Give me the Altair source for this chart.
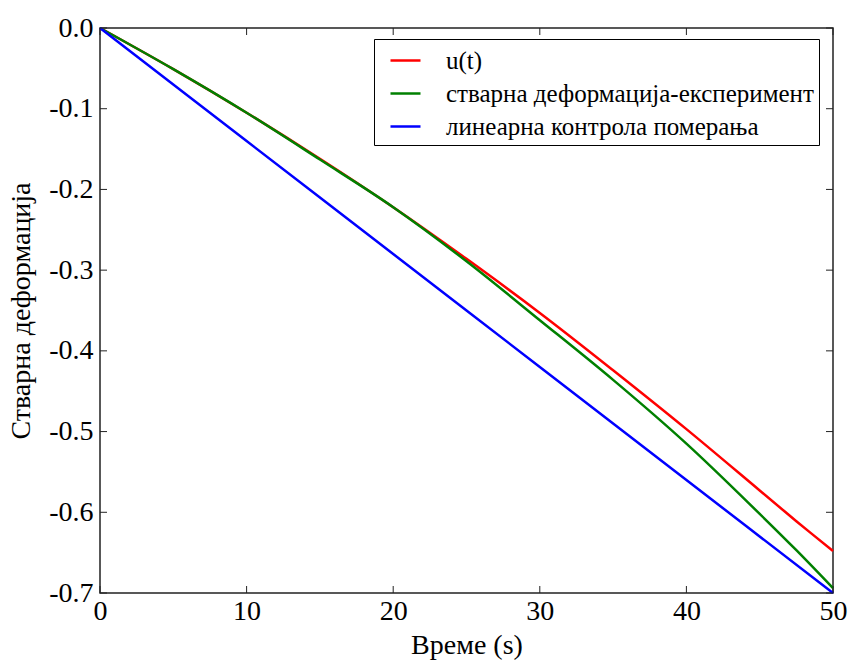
import altair as alt
import pandas as pd

# ---- data ----
t_curve = [0, 5, 10, 15, 20, 25, 30, 35, 40, 45, 47.5, 50]
u_t = [0, -0.051, -0.105, -0.162, -0.222, -0.286, -0.353, -0.424, -0.497, -0.573, -0.611, -0.648]
experiment = [0, -0.051, -0.105, -0.163, -0.222, -0.289, -0.362, -0.436, -0.515, -0.602, -0.647, -0.694]
t_linear = [0, 10, 20, 30, 40, 50]
linear = [0, -0.14, -0.28, -0.42, -0.56, -0.70]

series_names = ["u(t)", "стварна деформација-експеримент", "линеарна контрола померања"]
series_colors = ["#ff0000", "#008000", "#0000ff"]

x_ticks = [0, 10, 20, 30, 40, 50]
y_ticks = [0.0, -0.1, -0.2, -0.3, -0.4, -0.5, -0.6, -0.7]

rows = []
for t, v in zip(t_curve, u_t):
    rows.append({"t": t, "v": v, "s": series_names[0], "o": 0})
for t, v in zip(t_curve, experiment):
    rows.append({"t": t, "v": v, "s": series_names[1], "o": 1})
for t, v in zip(t_linear, linear):
    rows.append({"t": t, "v": v, "s": series_names[2], "o": 2})
df = pd.DataFrame(rows)

W, H = 733, 565
FONT = "Liberation Serif"
TL = 7  # inner tick length

xs = alt.Scale(domain=[0, 50], nice=False, zero=False)
ys = alt.Scale(domain=[-0.7, 0], nice=False, zero=False)

x_axis = alt.Axis(
    values=x_ticks, title="Време (s)", ticks=False, domain=False, grid=False,
    labelFontSize=28, labelColor="black", labelPadding=4, labelFlush=False,
    titleFontSize=28, titleFontWeight="normal", titleColor="black",
    titleY=60, titleBaseline="alphabetic")
y_axis = alt.Axis(
    values=y_ticks, format=".1f", labelExpr="replace(datum.label, '\u2212', '-')",
    title="Стварна деформација", ticks=False, domain=False, grid=False,
    labelFontSize=28, labelColor="black", labelPadding=7, labelFlush=False,
    titleFontSize=28, titleFontWeight="normal", titleColor="black",
    titleX=-79, titleY=H / 2, titleAngle=270, titleBaseline="middle", titleAlign="center")

lines = alt.Chart(df).mark_line(strokeWidth=2.5, interpolate="catmull-rom").encode(
    x=alt.X("t:Q", scale=xs, axis=x_axis),
    y=alt.Y("v:Q", scale=ys, axis=y_axis),
    color=alt.Color("s:N", scale=alt.Scale(domain=series_names, range=series_colors),
                    legend=alt.Legend(
                        title=None, orient="none", legendX=274, legendY=11,
                        strokeColor="black", fillColor="white", padding=5,
                        symbolType="stroke", symbolSize=900, symbolStrokeWidth=2.5,
                        symbolOffset=10,
                        labelFontSize=25, labelColor="black",
                        labelOffset=24, rowPadding=3, labelLimit=600)),
    order=alt.Order("o:Q"),
)

xt = pd.DataFrame({"t": x_ticks})
yt = pd.DataFrame({"v": y_ticks})

tick_style = dict(color="#222222", strokeWidth=1)
xb = alt.Chart(xt).mark_rule(**tick_style).encode(
    x=alt.X("t:Q", scale=xs, axis=x_axis), y=alt.value(H), y2=alt.value(H - TL))
xtop = alt.Chart(xt).mark_rule(**tick_style).encode(
    x=alt.X("t:Q", scale=xs, axis=x_axis), y=alt.value(0), y2=alt.value(TL))
yl = alt.Chart(yt).mark_rule(**tick_style).encode(
    y=alt.Y("v:Q", scale=ys, axis=y_axis), x=alt.value(0), x2=alt.value(TL))
yr = alt.Chart(yt).mark_rule(**tick_style).encode(
    y=alt.Y("v:Q", scale=ys, axis=y_axis), x=alt.value(W), x2=alt.value(W - TL))

chart = alt.layer(lines, xb, xtop, yl, yr).properties(
    width=W, height=H,
    autosize=alt.AutoSizeParams(type="none"),
    padding={"left": 100, "top": 28, "right": 15, "bottom": 69},
    background="white",
).configure(font=FONT).configure_axis(
    labelFont=FONT, titleFont=FONT
).configure_legend(
    labelFont=FONT
).configure_view(stroke="#222222", strokeWidth=1.5)

chart.save("out.html", embed_options={"renderer": "svg", "actions": False})
